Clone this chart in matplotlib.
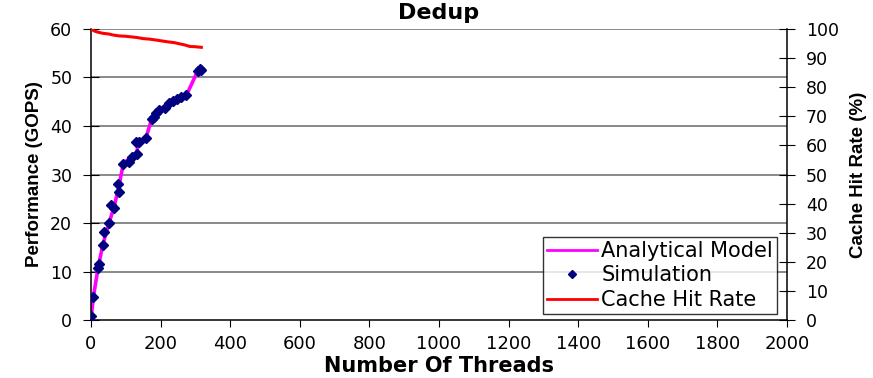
import matplotlib
matplotlib.use("Agg")
import matplotlib.pyplot as plt
from matplotlib.lines import Line2D

plt.rcParams['font.family'] = ['DejaVu Sans']

# Simulated throughput (GOPS) by thread count
sim_threads = [1, 7, 21, 22, 35, 38, 52, 59, 67, 78, 80, 93, 110, 117, 131, 129,
               138, 158, 174, 180, 188, 195, 212, 224, 236, 247, 260, 274, 307, 312, 317]
sim_gops = [0.8, 4.8, 10.7, 11.5, 15.5, 18.2, 20.0, 23.8, 23.0, 28.0, 26.3, 32.2, 32.6,
            33.7, 34.2, 36.6, 36.8, 37.5, 41.4, 41.9, 42.7, 43.2, 43.8, 44.8, 45.2, 45.6,
            45.9, 46.3, 51.4, 51.7, 51.5]

# Analytical model curve
model_threads = [1, 7, 21, 35, 52, 67, 80, 93, 117, 131, 138, 158, 174, 195, 224, 260, 274, 307, 317]
model_gops = [0.8, 4.8, 11.0, 15.8, 20.0, 23.5, 27.5, 32.2, 33.8, 34.5, 36.8, 37.5, 41.4,
              43.2, 44.8, 45.9, 46.3, 51.4, 51.8]

# Cache hit rate (%)
hit_threads = [0, 10, 20, 35, 50, 65, 83, 100, 115, 131, 150, 170, 198, 220, 240, 255,
               270, 284, 300, 317]
hit_rate = [100.0, 99.3, 98.9, 98.5, 98.3, 97.9, 97.6, 97.5, 97.3, 97.1, 96.7, 96.5, 96.0,
            95.6, 95.3, 94.9, 94.5, 94.0, 93.9, 93.7]

x_ticks = list(range(0, 2001, 200))
left_ticks = list(range(0, 61, 10))
right_ticks = list(range(0, 101, 10))

fig = plt.figure(figsize=(8.73, 3.78), dpi=100)
ax = fig.add_axes([0.1042, 0.1534, 0.7973, 0.7699])
ax2 = ax.twinx()

ax.set_xlim(0, 2000)
ax.set_ylim(0, 60)
ax2.set_ylim(0, 100)

for y in left_ticks[1:]:
    ax.axhline(y, color='#808080', lw=1.3, zorder=0)

ax.plot(model_threads, model_gops, color='#ff00ff', lw=2.6, zorder=2)
ax.plot(sim_threads, sim_gops, linestyle='none', marker='D', markersize=5,
        color='#000080', zorder=3)
ax2.plot(hit_threads, hit_rate, color='#ff0000', lw=2.2, zorder=2)

ax.set_xticks(x_ticks)
ax.set_yticks(left_ticks)
ax2.set_yticks(right_ticks)

for a in (ax, ax2):
    a.spines['top'].set_visible(False)
ax.spines['right'].set_visible(False)
ax2.spines['left'].set_visible(False)
ax2.spines['bottom'].set_visible(False)
ax2.spines['right'].set_color('black')
ax.spines['left'].set_linewidth(1.1)
ax.spines['bottom'].set_linewidth(1.1)
ax2.spines['right'].set_linewidth(1.1)

ax.tick_params(axis='x', direction='out', length=5, labelsize=13, pad=6)
ax.tick_params(axis='y', direction='inout', length=11, labelsize=12.5, pad=8)
ax2.tick_params(axis='y', direction='inout', length=11, labelsize=12.5, pad=8)

ax.set_xlabel('Number Of Threads', fontsize=15, fontweight='bold', labelpad=2)
ax.set_ylabel('Performance (GOPS)', fontsize=13.5, fontweight='bold',
              family='Liberation Sans', labelpad=5)
ax2.set_ylabel('Cache Hit Rate (%)', fontsize=13.5, fontweight='bold',
               family='Liberation Sans', labelpad=8)
ax.set_title('Dedup', fontsize=16, fontweight='bold', pad=7)

handles = [
    Line2D([], [], color='#ff00ff', lw=2),
    Line2D([], [], linestyle='none', marker='D', markersize=4, color='#000080'),
    Line2D([], [], color='#ff0000', lw=2),
]
leg = ax2.legend(handles, ['Analytical Model', 'Simulation', 'Cache Hit Rate'],
                 loc='lower right', bbox_to_anchor=(0.986, 0.02), fontsize=15,
                 frameon=True, fancybox=False, borderpad=0.2, labelspacing=0.22,
                 handlelength=2.4, handletextpad=0.2, borderaxespad=0)
leg.get_frame().set_edgecolor('black')
leg.get_frame().set_linewidth(1.0)

fig.savefig('out.png', dpi=100)
